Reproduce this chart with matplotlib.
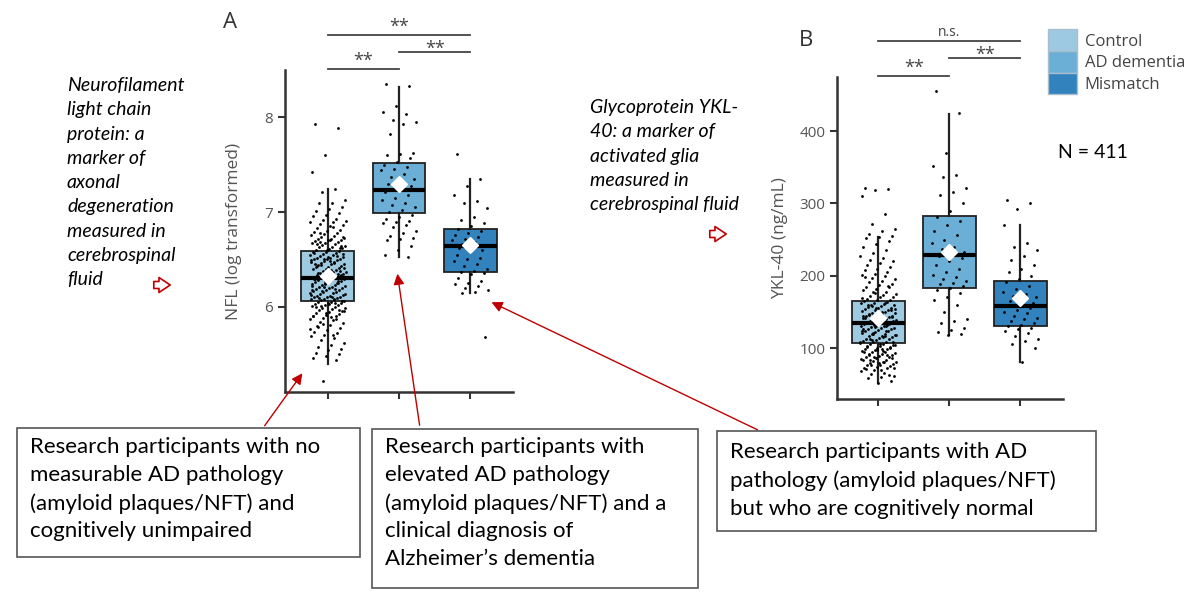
import matplotlib
matplotlib.use("Agg")
import matplotlib.pyplot as plt
from matplotlib.patches import Rectangle, Patch, FancyArrowPatch

# ---- data ----
groups = ["Control", "AD dementia", "Mismatch"]
colors = ["#9ecae1", "#6baed6", "#3182bd"]

# NFL (log transformed): box summary per group
nfl_q1 = [6.06, 6.99, 6.37]
nfl_med = [6.31, 7.23, 6.64]
nfl_q3 = [6.59, 7.52, 6.82]
nfl_lo = [5.40, 6.53, 6.15]
nfl_hi = [7.24, 8.32, 7.35]
nfl_mean = [6.33, 7.29, 6.65]

# YKL-40 (ng/mL): box summary per group
ykl_q1 = [107, 183, 130]
ykl_med = [135, 229, 158]
ykl_q3 = [165, 282, 193]
ykl_lo = [52, 118, 80]
ykl_hi = [253, 424, 270]
ykl_mean = [142, 233, 169]

nfl_ctrl = [7.93, 7.88, 7.60, 7.42, 7.24, 7.21, 7.13, 7.10, 7.09, 7.05, 7.03, 7.01,
            6.99, 6.97, 6.96, 6.93, 6.92, 6.90, 6.89, 6.87, 6.86, 6.85, 6.83, 6.81,
            6.80, 6.79, 6.78, 6.77, 6.76, 6.75, 6.74, 6.73, 6.72, 6.72, 6.71, 6.70,
            6.69, 6.68, 6.67, 6.67, 6.66, 6.65, 6.64, 6.63, 6.63, 6.62, 6.61, 6.60,
            6.59, 6.58, 6.58, 6.57, 6.56, 6.55, 6.55, 6.54, 6.53, 6.52, 6.52, 6.51,
            6.50, 6.50, 6.49, 6.48, 6.47, 6.47, 6.46, 6.45, 6.45, 6.44, 6.43, 6.42,
            6.42, 6.41, 6.40, 6.40, 6.39, 6.38, 6.37, 6.37, 6.36, 6.35, 6.35, 6.34,
            6.33, 6.33, 6.32, 6.32, 6.31, 6.31, 6.30, 6.30, 6.29, 6.28, 6.28, 6.27,
            6.26, 6.26, 6.25, 6.25, 6.24, 6.23, 6.23, 6.22, 6.21, 6.21, 6.20, 6.20,
            6.19, 6.18, 6.18, 6.17, 6.16, 6.16, 6.15, 6.15, 6.14, 6.13, 6.12, 6.12,
            6.11, 6.10, 6.10, 6.09, 6.08, 6.08, 6.07, 6.07, 6.06, 6.05, 6.05, 6.04,
            6.04, 6.03, 6.02, 6.02, 6.01, 6.00, 5.99, 5.99, 5.98, 5.97, 5.96, 5.95,
            5.94, 5.93, 5.92, 5.91, 5.90, 5.88, 5.87, 5.86, 5.84, 5.83, 5.81, 5.80,
            5.78, 5.76, 5.74, 5.73, 5.71, 5.69, 5.67, 5.65, 5.62, 5.60, 5.58, 5.56,
            5.55, 5.52, 5.50, 5.48, 5.46, 5.44, 5.22,
            6.91, 6.84, 6.78, 6.74, 6.70, 6.66, 6.62, 6.60, 6.57, 6.54, 6.51, 6.49,
            6.46, 6.44, 6.41, 6.39, 6.36, 6.34, 6.32, 6.29, 6.27, 6.24, 6.22, 6.19,
            6.17, 6.14, 6.11, 6.09, 6.06, 6.03, 6.00, 5.97, 5.94, 5.91, 5.87, 5.82,
            5.77, 5.70, 6.68, 6.56, 6.48, 6.43, 6.38, 6.33, 6.29, 6.25, 6.21, 6.13,
            6.08, 6.01, 5.96, 5.89, 5.79, 6.64, 6.53, 6.45, 6.35, 6.27, 6.18, 6.04]
nfl_ad = [8.35, 8.33, 8.12, 8.05, 8.03, 7.97, 7.95, 7.93, 7.82, 7.62, 7.61, 7.60,
          7.57, 7.53, 7.50, 7.47, 7.45, 7.44, 7.40, 7.37, 7.35, 7.32, 7.30, 7.27,
          7.25, 7.21, 7.18, 7.15, 7.13, 7.10, 7.07, 7.05, 7.02, 7.00, 6.97, 6.95,
          6.93, 6.91, 6.90, 6.88, 6.86, 6.84, 6.80, 6.78, 6.75, 6.73, 6.72, 6.70,
          6.64, 6.60, 6.55, 6.53]
nfl_mm = [7.61, 7.35, 7.27, 7.18, 7.12, 7.10, 7.04, 6.95, 6.92, 6.88, 6.85, 6.82,
          6.80, 6.78, 6.76, 6.74, 6.72, 6.70, 6.68, 6.66, 6.65, 6.64, 6.62, 6.60,
          6.58, 6.55, 6.52, 6.50, 6.48, 6.45, 6.43, 6.40, 6.38, 6.37, 6.36, 6.35,
          6.30, 6.27, 6.25, 6.24, 6.22, 6.20, 6.18, 6.16, 6.15, 5.68]

ykl_ctrl = [322, 320, 318, 310, 285, 272, 265, 262, 258, 255, 253, 252, 248, 244,
            240, 236, 232, 228, 225, 222, 220, 218, 215, 212, 210, 208, 205, 203,
            201, 199, 197, 195, 193, 191, 189, 187, 185, 184, 182, 180, 178, 177,
            175, 174, 172, 171, 170, 168, 167, 166, 165, 164, 163, 162, 161, 160,
            159, 158, 157, 156, 155, 154, 153, 152, 151, 150, 149, 148, 147, 146,
            145, 145, 144, 143, 142, 141, 140, 140, 139, 138, 137, 137, 136, 135,
            135, 134, 133, 132, 132, 131, 130, 129, 128, 128, 127, 126, 125, 124,
            123, 122, 121, 120, 119, 118, 117, 116, 115, 114, 113, 112, 111, 110,
            109, 108, 107, 106, 105, 104, 103, 102, 101, 100, 99, 98, 97, 96, 95,
            94, 93, 92, 91, 90, 89, 88, 87, 86, 84, 83, 82, 81, 80, 79, 78, 77,
            76, 75, 74, 73, 72, 70, 68, 66, 64, 62, 60, 58, 55, 52,
            198, 186, 176, 169, 163, 158, 154, 150, 147, 143, 139, 136, 133, 130,
            127, 124, 121, 118, 115, 112, 109, 106, 103, 100, 97, 94, 91, 88, 85,
            81, 77, 73, 69, 160, 152, 146, 141, 134, 129, 123, 117, 111, 104, 98,
            92, 86, 79, 71, 63, 156, 144, 131, 119, 108, 96, 84]
ykl_ad = [455, 425, 370, 352, 340, 336, 322, 316, 312, 300, 290, 281, 276, 270,
          262, 256, 250, 246, 240, 237, 233, 230, 228, 225, 220, 215, 210, 205,
          201, 198, 196, 193, 190, 188, 186, 183, 180, 176, 170, 166, 160, 150,
          140, 137, 135, 128, 125, 122, 120, 118]
ykl_mm = [305, 300, 292, 270, 245, 240, 236, 228, 222, 215, 210, 205, 200, 195,
          191, 186, 181, 178, 175, 172, 170, 168, 165, 162, 160, 158, 155, 152,
          150, 148, 145, 142, 140, 138, 135, 132, 130, 128, 126, 124, 121, 117,
          113, 110, 105, 100, 80]

# ---- style ----
plt.rcParams["font.family"] = ["Open Sans", "DejaVu Sans"]
axis_col = "#333333"
tick_col = "#555555"
red = "#c00000"

fig = plt.figure(figsize=(12, 5.94), dpi=100)
W, H = 1200.0, 594.0


def fx(px):
    return px / W


def fy(py):
    return 1 - py / H


def panel(rect, q1, med, q3, lo, hi, mean, pts, ylim, xlim, yticks, ylabel, pad):
    ax = fig.add_axes(rect)
    stats = []
    for i in range(3):
        stats.append(dict(q1=q1[i], med=med[i], q3=q3[i], whislo=lo[i], whishi=hi[i],
                          mean=mean[i], fliers=[]))
    bp = ax.bxp(stats, positions=[1, 2, 3], widths=0.74, patch_artist=True,
                showcaps=False, showfliers=False, showmeans=False,
                boxprops=dict(edgecolor="#222222", linewidth=1.3),
                whiskerprops=dict(color="#222222", linewidth=1.6),
                medianprops=dict(color="black", linewidth=3), zorder=1)
    for patch, c in zip(bp["boxes"], colors):
        patch.set_facecolor(c)
    # jittered points (deterministic scatter of x offsets)
    for i, vals in enumerate(pts):
        xs = [i + 1 + (((k * 7919 + 13) % 97) / 96.0 - 0.5) * 0.5 for k in range(len(vals))]
        ax.scatter(xs, vals, s=4, color="black", zorder=3, linewidths=0)
    ax.plot([1, 2, 3], mean, linestyle="none", marker="D", markersize=8,
            markerfacecolor="white", markeredgecolor="white", zorder=4)
    ax.set_xlim(*xlim)
    ax.set_ylim(*ylim)
    ax.set_xticks([1, 2, 3])
    ax.set_xticklabels([])
    ax.set_yticks(yticks)
    ax.tick_params(axis="both", length=5, width=1.5, color=axis_col,
                   labelsize=11, labelcolor=tick_col)
    for s in ["top", "right"]:
        ax.spines[s].set_visible(False)
    for s in ["left", "bottom"]:
        ax.spines[s].set_linewidth(1.8)
        ax.spines[s].set_color(axis_col)
    ax.set_ylabel(ylabel, fontsize=12.5, color=tick_col, labelpad=pad)
    return ax


axA = panel([fx(285), fy(392), fx(228), 322 / H], nfl_q1, nfl_med, nfl_q3, nfl_lo,
            nfl_hi, nfl_mean, [nfl_ctrl, nfl_ad, nfl_mm], (5.105, 8.495), (0.4, 3.6),
            [6, 7, 8], "NFL (log transformed)", 16)
axB = panel([fx(837), fy(399), fx(226), 322 / H], ykl_q1, ykl_med, ykl_q3, ykl_lo,
            ykl_hi, ykl_mean, [ykl_ctrl, ykl_ad, ykl_mm], (29.5, 475), (0.42, 3.6),
            [100, 200, 300, 400], "YKL-40 (ng/mL)", 8)


def sigbar(ax, x0, x1, y, ty, label, size=13):
    ax.plot([x0, x1], [y, y], color="#444444", lw=1.3, clip_on=False)
    ax.text((x0 + x1) / 2, ty, label, ha="center", va="center", fontsize=size,
            color="#444444", clip_on=False)


sigbar(axA, 1, 3, 8.863, 8.95, "**")
sigbar(axA, 2, 3, 8.684, 8.72, "**")
sigbar(axA, 1, 2, 8.505, 8.59, "**")
sigbar(axB, 1, 3, 524.8, 536, "n.s.", size=10)
sigbar(axB, 2, 3, 501.3, 505, "**")
sigbar(axB, 1, 2, 476.4, 487, "**")

fig.text(fx(230), fy(23), "A", fontsize=16, color="#333333", ha="center", va="center")
fig.text(fx(806), fy(41), "B", fontsize=16, color="#333333", ha="center", va="center")

# legend
handles = [Patch(facecolor=c, edgecolor="#a9bfd0", linewidth=1) for c in colors]
fig.legend(handles, groups, loc="upper left", bbox_to_anchor=(fx(1035), fy(16)),
           frameon=False, fontsize=12, handlelength=1.74, handleheight=1.62,
           labelspacing=0, handletextpad=0.45, borderpad=0.3, labelcolor="#444444")

# annotations
lato = ["Lato", "DejaVu Sans"]
fig.text(fx(1058), fy(153), "N = 411", fontsize=14, family=lato, va="center")

left_txt = ("Neurofilament\nlight chain\nprotein: a\nmarker of\naxonal\n"
            "degeneration\nmeasured in\ncerebrospinal\nfluid")
fig.text(fx(67), fy(77), left_txt, fontsize=14, style="italic", family=lato,
         va="top", ha="left", linespacing=1.52)
mid_txt = "Glycoprotein YKL-\n40: a marker of\nactivated glia\nmeasured in\ncerebrospinal fluid"
fig.text(fx(590), fy(99), mid_txt, fontsize=14, style="italic", family=lato,
         va="top", ha="left", linespacing=1.52)

# hollow red block arrows
for cx, cy in [(162, 285), (718, 234)]:
    fig.add_artist(FancyArrowPatch(
        (fx(cx - 11), fy(cy)), (fx(cx + 11), fy(cy)), transform=fig.transFigure,
        arrowstyle="simple,head_length=0.45,head_width=0.6,tail_width=0.28",
        mutation_scale=18, facecolor="white", edgecolor=red, linewidth=1.2))

boxes = [
    ((17, 428, 360, 557), (30, 437),
     "Research participants with no\nmeasurable AD pathology\n(amyloid plaques/NFT) and\ncognitively unimpaired"),
    ((372, 429, 698, 588), (385, 437),
     "Research participants with\nelevated AD pathology\n(amyloid plaques/NFT) and a\nclinical diagnosis of\nAlzheimer\u2019s dementia"),
    ((717, 431, 1096, 531), (730, 442),
     "Research participants with AD\npathology (amyloid plaques/NFT)\nbut who are cognitively normal"),
]
for (x0, y0, x1, y1), (tx, ty), txt in boxes:
    fig.add_artist(Rectangle((fx(x0), fy(y1)), fx(x1 - x0), (y1 - y0) / H,
                             transform=fig.transFigure, facecolor="white",
                             edgecolor="#555555", linewidth=1.2))
    fig.text(fx(tx), fy(ty), txt, fontsize=16, family=lato, va="top", ha="left",
             linespacing=1.49, color="black")

# red arrows from boxes to groups
arrows = [((263, 428), (304, 371)), ((420, 428), (397, 271)), ((760, 431), (489, 301))]
for (x0, y0), (x1, y1) in arrows:
    fig.add_artist(FancyArrowPatch(
        (fx(x0), fy(y0)), (fx(x1), fy(y1)), transform=fig.transFigure,
        arrowstyle="-|>", mutation_scale=16, color=red, linewidth=1))

fig.savefig("out.png", dpi=100)
